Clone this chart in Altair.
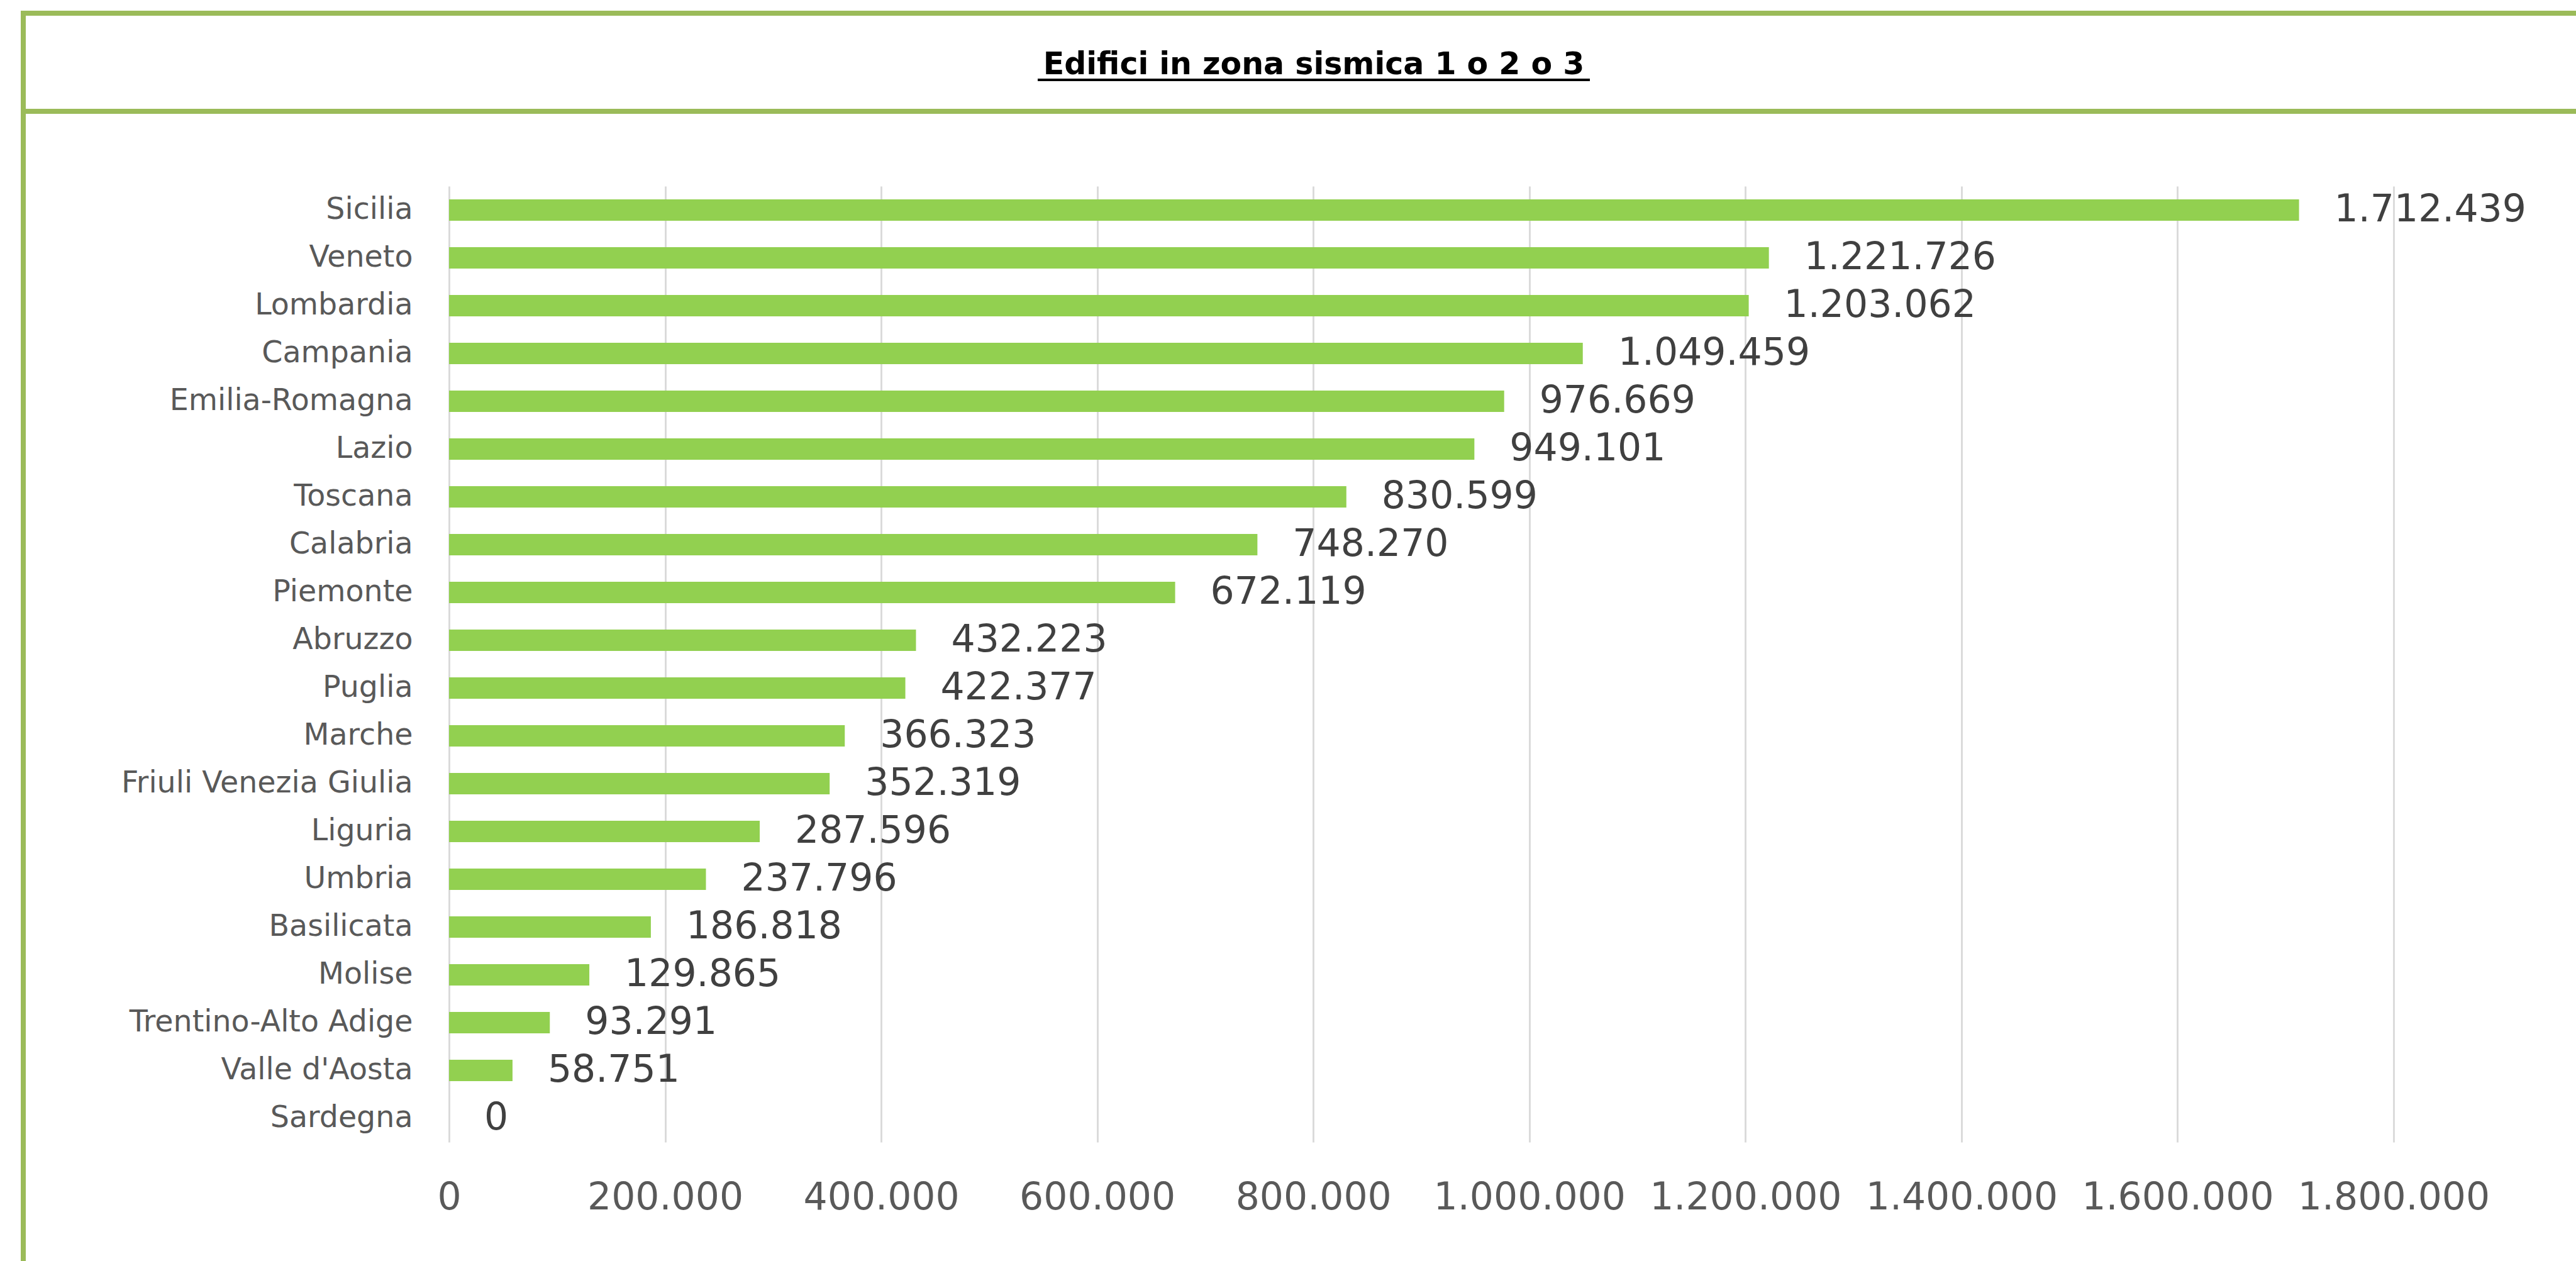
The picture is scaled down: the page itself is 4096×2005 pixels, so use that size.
import altair as alt
import pandas as pd

# ---- data ----
regions = [
    "Sicilia", "Veneto", "Lombardia", "Campania", "Emilia-Romagna", "Lazio",
    "Toscana", "Calabria", "Piemonte", "Abruzzo", "Puglia", "Marche",
    "Friuli Venezia Giulia", "Liguria", "Umbria", "Basilicata", "Molise",
    "Trentino-Alto Adige", "Valle d'Aosta", "Sardegna",
]
values = [
    1712439, 1221726, 1203062, 1049459, 976669, 949101,
    830599, 748270, 672119, 432223, 422377, 366323,
    352319, 287596, 237796, 186818, 129865,
    93291, 58751, 0,
]
tick_values = [0, 200000, 400000, 600000, 800000, 1000000, 1200000, 1400000, 1600000, 1800000]
title_text = "Edifici in zona sismica 1 o 2 o 3"

value_labels = [f"{v:,}".replace(",", ".") for v in values]
df = pd.DataFrame({"regione": regions, "edifici": values, "etichetta": value_labels})
one = pd.DataFrame({"k": [0]})

# ---- layout (output pixels) ----
W, H = 3092, 1520
PAD_L, PAD_T = 714, 296
PAD_R = 4096 - PAD_L - W
PAD_B = 2005 - PAD_T - H
FONT = "DejaVu Sans"
FRAME = "#9BBB59"

y_enc = alt.Y(
    "regione:N", sort=regions, title=None,
    scale=alt.Scale(paddingInner=0.55, paddingOuter=0.275),
    axis=alt.Axis(domain=False, ticks=False, tickSize=0, labelPadding=58,
                  labelFont=FONT, labelFontSize=47.5, labelColor="#595959",
                  labelLimit=0),
)
x_enc = alt.X(
    "edifici:Q", title=None,
    scale=alt.Scale(domain=[0, 1800000], nice=False, zero=True),
    axis=alt.Axis(values=tick_values, domain=False, ticks=False, tickSize=0,
                  grid=True, gridColor="#D9D9D9", gridWidth=2.8,
                  labelPadding=88, labelBaseline="middle", labelFlush=False,
                  labelOverlap=False, labelLimit=0, labelFont=FONT, labelFontSize=60,
                  labelColor="#595959",
                  labelExpr="replace(format(datum.value, ','), regexp(',', 'g'), '.')"),
)

bars = alt.Chart(df).mark_bar(color="#92D050").encode(x=x_enc, y=y_enc)

texts = alt.Chart(df).mark_text(
    align="left", baseline="middle", dx=56, font=FONT, fontSize=60, color="#404040"
).encode(
    x=alt.X("edifici:Q"),
    y=alt.Y("regione:N", sort=regions),
    text="etichetta:N",
)

frame_left = alt.Chart(one).mark_rule(color=FRAME, strokeWidth=8).encode(
    x=alt.value(37 - PAD_L), y=alt.value(17 - PAD_T), y2=alt.value(H + PAD_B + 20)
)
frame_top = alt.Chart(one).mark_rule(color=FRAME, strokeWidth=8).encode(
    y=alt.value(21 - PAD_T), x=alt.value(33 - PAD_L), x2=alt.value(W + PAD_R + 20)
)
divider = alt.Chart(one).mark_rule(color=FRAME, strokeWidth=8).encode(
    y=alt.value(177 - PAD_T), x=alt.value(33 - PAD_L), x2=alt.value(W + PAD_R + 20)
)

title_cx = 2089 - PAD_L
title = alt.Chart(one).mark_text(
    text=title_text, font=FONT, fontSize=49, fontWeight="bold", color="#000000",
    align="center", baseline="alphabetic",
).encode(x=alt.value(title_cx), y=alt.value(118 - PAD_T))

underline = alt.Chart(one).mark_rule(color="#000000", strokeWidth=4).encode(
    y=alt.value(127 - PAD_T), x=alt.value(title_cx - 439), x2=alt.value(title_cx + 439)
)

chart = alt.layer(
    bars, texts, frame_left, frame_top, divider, title, underline
).properties(
    width=W, height=H,
    padding={"left": PAD_L, "top": PAD_T, "right": PAD_R, "bottom": PAD_B},
    autosize=alt.AutoSizeParams(type="none"),
    background="#FFFFFF",
).configure_view(stroke=None)

chart.save("out.html", embed_options={"renderer": "svg", "actions": False})
